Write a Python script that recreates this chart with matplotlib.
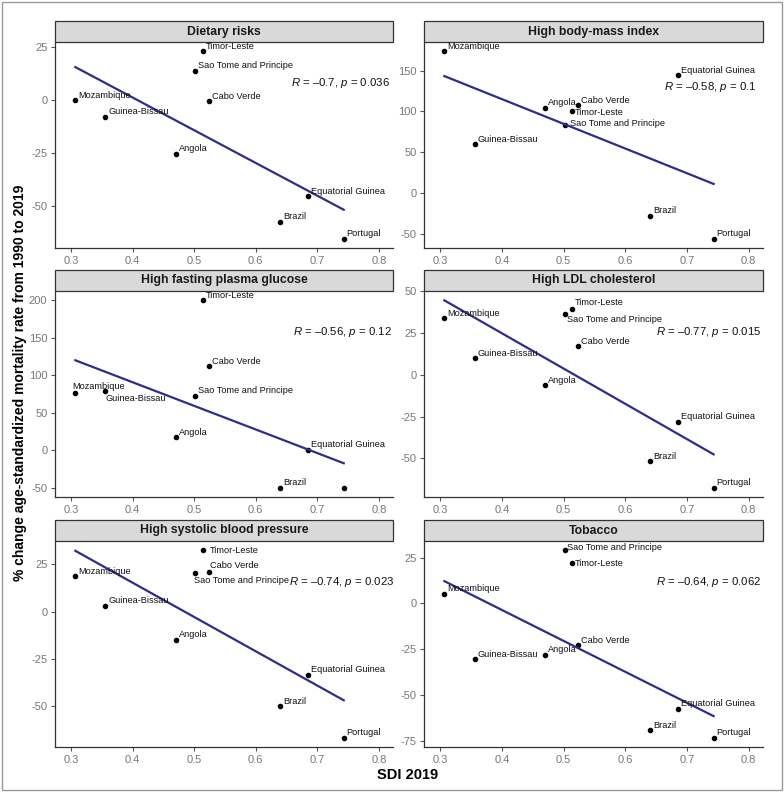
import matplotlib
matplotlib.use('Agg')
import matplotlib.pyplot as plt
from matplotlib.patches import Rectangle
import numpy as np

plt.rcParams['font.family'] = ['Liberation Sans', 'DejaVu Sans']
plt.rcParams['mathtext.fontset'] = 'custom'
plt.rcParams['mathtext.rm'] = 'Liberation Sans'
plt.rcParams['mathtext.it'] = 'Liberation Sans:italic'
plt.rcParams['axes.unicode_minus'] = False

# Daten
countries = ['Mozambique', 'Guinea-Bissau', 'Angola', 'Sao Tome and Principe', 'Timor-Leste',
             'Cabo Verde', 'Brazil', 'Equatorial Guinea', 'Portugal']
sdi = [0.307, 0.356, 0.470, 0.502, 0.514, 0.524, 0.640, 0.685, 0.743]

risks = ['Dietary risks', 'High body-mass index', 'High fasting plasma glucose',
         'High LDL cholesterol', 'High systolic blood pressure', 'Tobacco']

dietary = [0, -7.8, -25.2, 13.8, 23, -0.6, -57.2, -45.2, -65.2]
bmi = [173.6, 59.8, 104.5, 84, 100.4, 107.7, -27.6, 144.3, -55.7]
glucose = [76.5, 78.8, 17.3, 73, 200, 112.4, -49.6, 0, -49.6]
ldl = [33.7, 9.9, -6.3, 36.5, 39.3, 17.1, -51.6, -28.2, -67.5]
sbp = [18.7, 3.1, -14.9, 20.6, 32.4, 21, -50, -33.3, -66.6]
tobacco = [5.2, -30.6, -28, 28.9, 21.9, -22.8, -69.4, -57.5, -73.4]
values = [dietary, bmi, glucose, ldl, sbp, tobacco]

r_labels = ['$\\it{R}$ = –0.7, $\\it{p}$ = 0.036', '$\\it{R}$ = –0.58, $\\it{p}$ = 0.1',
            '$\\it{R}$ = –0.56, $\\it{p}$ = 0.12', '$\\it{R}$ = –0.77, $\\it{p}$ = 0.015',
            '$\\it{R}$ = –0.74, $\\it{p}$ = 0.023', '$\\it{R}$ = –0.64, $\\it{p}$ = 0.062']

yticks = [[-50, -25, 0, 25], [-50, 0, 50, 100, 150], [-50, 0, 50, 100, 150, 200],
          [-50, -25, 0, 25, 50], [-50, -25, 0, 25], [-75, -50, -25, 0, 25]]

# Position der R/p-Beschriftung (Achsenanteil, linker Rand)
r_pos = [(0.697, 0.80), (0.708, 0.78), (0.705, 0.80), (0.683, 0.80), (0.693, 0.80), (0.683, 0.80)]

# Label-Versatz (Pixel) wo ggrepel anders platziert hat
offsets = {
    1: {'Timor-Leste': (3, -1), 'Sao Tome and Principe': (5, 1)},
    2: {'Mozambique': (-3, 7), 'Guinea-Bissau': (0, -7), 'Equatorial Guinea': (3, 6),
        'Portugal': None},
    3: {'Sao Tome and Principe': (2, -6), 'Timor-Leste': (3, 7)},
    4: {'Timor-Leste': (7, 0), 'Cabo Verde': (1, 6), 'Sao Tome and Principe': (-1, -8)},
    5: {'Timor-Leste': (3, 0), 'Sao Tome and Principe': (2, 3)},
}

W, H = 784, 792
fig = plt.figure(figsize=(W / 100, H / 100), dpi=100)
fig.patches.append(Rectangle((0.002, 0.002), 0.996, 0.996, transform=fig.transFigure,
                             fill=False, edgecolor='#9a9a9a', linewidth=1.0))

col_x = [(55, 393), (424, 763)]
row_y = [(42, 248), (291, 497), (541, 747)]

for i, risk in enumerate(risks):
    r, c = divmod(i, 2)
    x0, x1 = col_x[c]
    y0, y1 = row_y[r]
    ax = fig.add_axes([x0 / W, 1 - y1 / H, (x1 - x0) / W, (y1 - y0) / H])
    y = values[i]

    ax.scatter(sdi, y, s=9, color='black', zorder=3)
    k, d = np.polyfit(sdi, y, 1)
    xs = np.array([min(sdi), max(sdi)])
    ax.plot(xs, k * xs + d, color='#2e2e8a', linewidth=1.6, zorder=4)

    for name, xv, yv in zip(countries, sdi, y):
        off = offsets.get(i, {}).get(name, (3, 5))
        if off is None:
            continue
        ax.annotate(name, (xv, yv), xytext=off, textcoords='offset pixels',
                    ha='left', va='center', fontsize=6.6, color='#111111', zorder=5)

    ax.text(r_pos[i][0], r_pos[i][1], r_labels[i], transform=ax.transAxes, ha='left',
            va='center', fontsize=8.2, color='#111111')

    ax.set_xlim(0.274, 0.823)
    ax.margins(y=0.05)
    ax.set_xticks([0.3, 0.4, 0.5, 0.6, 0.7, 0.8])
    ax.set_yticks(yticks[i])
    ax.tick_params(colors='#555555', labelcolor='#777777', labelsize=8, length=3, width=0.8,
                   pad=2.5)
    for s in ['top', 'right']:
        ax.spines[s].set_visible(False)
    for s in ['left', 'bottom']:
        ax.spines[s].set_color('#333333')
        ax.spines[s].set_linewidth(0.9)

    sh = 21 / (y1 - y0)
    ax.add_patch(Rectangle((0, 1), 1, sh, transform=ax.transAxes, clip_on=False,
                           facecolor='#d9d9d9', edgecolor='#333333', linewidth=0.9))
    ax.text(0.5, 1 + sh / 2, risk, transform=ax.transAxes, ha='center', va='center',
            fontsize=8.8, fontweight='bold', color='#1a1a1a')

fig.text(408 / W, 1 - 775 / H, 'SDI 2019', ha='center', va='center',
         fontsize=10.5, fontweight='bold')
fig.text(20 / W, 1 - 383 / H, '% change age-standardized mortality rate from 1990 to 2019',
         rotation=90, ha='center', va='center', fontsize=10, fontweight='bold')

plt.savefig('out.png', dpi=100)
